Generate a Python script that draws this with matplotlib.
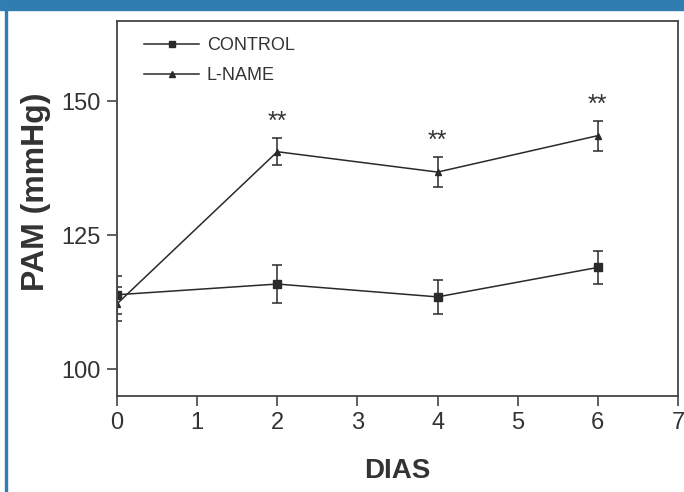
import matplotlib.pyplot as plt
from matplotlib.patches import Rectangle
from matplotlib.lines import Line2D

# data
days = [0, 2, 4, 6]
control_mean = [113.9, 115.9, 113.5, 119.0]
control_err = [3.5, 3.5, 3.1, 3.0]
lname_mean = [112.2, 140.6, 136.8, 143.6]
lname_err = [3.2, 2.5, 2.8, 2.8]
signif_days = [2, 4, 6]
signif_labels = ['**', '**', '**']

plt.rcParams['font.family'] = ['Liberation Sans', 'DejaVu Sans']

fig = plt.figure(figsize=(6.84, 4.92), dpi=100)
ax = fig.add_axes([117 / 684, 96 / 492, 561 / 684, 375 / 492])

ink = '#2a2a2a'
ax.errorbar(days, control_mean, yerr=control_err, color=ink, marker='s',
            markersize=6, linewidth=1.1, capsize=3.8, elinewidth=1.1,
            capthick=1.1)
ax.errorbar(days, lname_mean, yerr=lname_err, color=ink, marker='^',
            markersize=4, linewidth=1.1, capsize=3.8, elinewidth=1.1,
            capthick=1.1)

for d, lab in zip(signif_days, signif_labels):
    i = days.index(d)
    ax.annotate(lab, (d, lname_mean[i] + lname_err[i]), xytext=(0, 3),
                textcoords='offset points', ha='center', va='bottom',
                fontsize=18, color='#333333')

ax.set_xlim(0, 7)
ax.set_ylim(95, 165)
ax.set_xticks(range(0, 8))
ax.set_yticks([100, 125, 150])
ax.tick_params(direction='out', length=7.5, width=1.2, colors='#444444',
               labelsize=17, labelcolor='#333333', pad=4)
for s in ax.spines.values():
    s.set_linewidth(1.3)
    s.set_color('#444444')

ax.set_xlabel('DIAS', fontsize=20, fontweight='bold', color='#333333')
ax.set_ylabel('PAM (mmHg)', fontsize=23, fontweight='bold', color='#333333')
ax.xaxis.set_label_coords(0.499, -0.165)
ax.yaxis.set_label_coords(-0.118, 0.544)

handles = [Line2D([], [], color=ink, marker='s', markersize=5, linewidth=1.1),
           Line2D([], [], color=ink, marker='^', markersize=4, linewidth=1.1)]
leg = ax.legend(handles, ['CONTROL', 'L-NAME'], loc='upper left', frameon=False,
                fontsize=13, bbox_to_anchor=(0.02, 1.0), handlelength=3.0,
                labelspacing=0.7, handletextpad=0.45)
for t in leg.get_texts():
    t.set_color('#333333')

# page frame around the figure
fig.patches.append(Rectangle((0, 482 / 492), 1, 10 / 492, transform=fig.transFigure,
                             color='#2f7db1', zorder=0))
fig.patches.append(Rectangle((5 / 684, 0), 2 / 684, 1, transform=fig.transFigure,
                             color='#2f7db1', zorder=0))

fig.savefig('out.png', dpi=100)
